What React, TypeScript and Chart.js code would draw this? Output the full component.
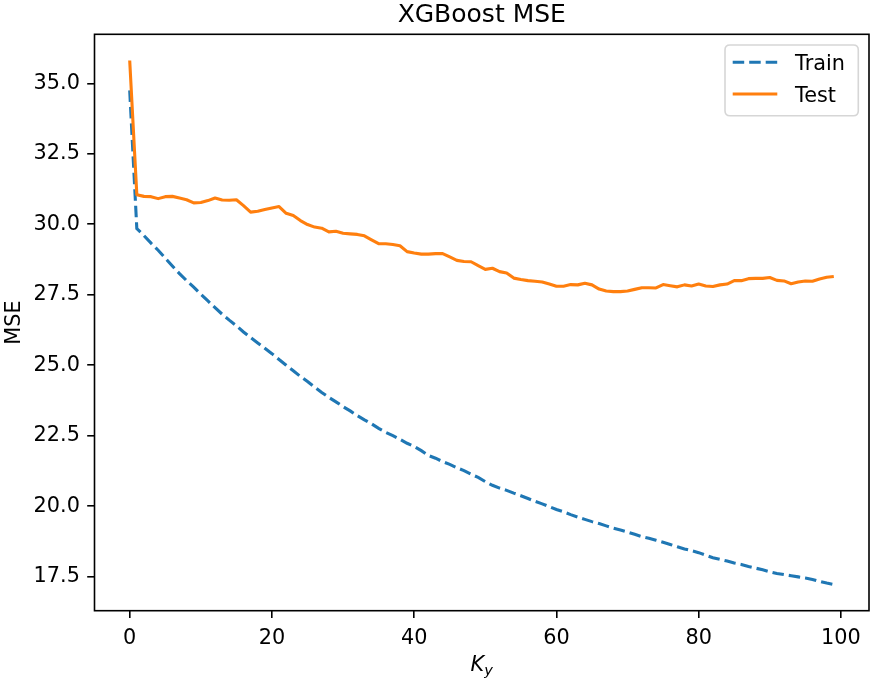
import React, { useEffect, useRef } from "react";
import { Chart, registerables } from "chart.js";

Chart.register(...registerables);

const chartTitle = "XGBoost MSE";
const yAxisLabel = "MSE";
const seriesNames = ["Train", "Test"];

const trainMSE = [
  34.75, 29.85, 29.6, 29.33, 29.08, 28.8, 28.52, 28.25, 28.0, 27.77,
  27.52, 27.28, 27.04, 26.81, 26.6, 26.4, 26.18, 25.98, 25.79, 25.6,
  25.41, 25.2, 25.0, 24.8, 24.6, 24.42, 24.22, 24.03, 23.86, 23.7,
  23.53, 23.38, 23.21, 23.06, 22.92, 22.76, 22.62, 22.5, 22.37, 22.23,
  22.12, 21.97, 21.8, 21.7, 21.58, 21.48, 21.36, 21.26, 21.13, 21.02,
  20.87, 20.74, 20.64, 20.56, 20.46, 20.37, 20.27, 20.17, 20.08, 19.98,
  19.88, 19.8, 19.7, 19.61, 19.53, 19.45, 19.38, 19.3, 19.22, 19.15,
  19.08, 19.0, 18.92, 18.86, 18.79, 18.72, 18.64, 18.56, 18.48, 18.42,
  18.35, 18.26, 18.17, 18.11, 18.05, 17.98, 17.93, 17.86, 17.8, 17.74,
  17.67, 17.61, 17.57, 17.53, 17.49, 17.45, 17.4, 17.33, 17.27, 17.22,
];

const testMSE = [
  35.81, 31.05, 30.99, 30.98, 30.91, 30.98, 30.99, 30.93, 30.87, 30.76,
  30.77, 30.84, 30.93, 30.86, 30.85, 30.87, 30.66, 30.43, 30.46, 30.52,
  30.58, 30.63, 30.39, 30.31, 30.13, 29.99, 29.9, 29.86, 29.73, 29.75,
  29.68, 29.66, 29.64, 29.59, 29.45, 29.31, 29.31, 29.28, 29.24, 29.03,
  28.98, 28.94, 28.94, 28.96, 28.96, 28.84, 28.72, 28.68, 28.67, 28.53,
  28.4, 28.44, 28.32, 28.27, 28.09, 28.04, 28.0, 27.98, 27.95, 27.88,
  27.8, 27.8, 27.86, 27.85, 27.91, 27.85, 27.7, 27.63, 27.61, 27.61,
  27.63, 27.69, 27.75, 27.75, 27.74, 27.86, 27.82, 27.78, 27.85, 27.81,
  27.88, 27.81, 27.79, 27.85, 27.88, 28.0, 28.0, 28.07, 28.08, 28.08,
  28.11, 28.01, 27.99, 27.89, 27.95, 27.99, 27.98, 28.06, 28.12, 28.15,
];

const xTickValues = [0, 20, 40, 60, 80, 100];
const yTickValues = [17.5, 20.0, 22.5, 25.0, 27.5, 30.0, 32.5, 35.0];

const BLUE = "#1f77b4";
const ORANGE = "#ff7f0e";
const FONT = "'DejaVu Sans', sans-serif";
const W = 872;
const H = 681;

const decorPlugin = {
  id: "decor",
  afterDatasetsDraw(chart: any) {
    const { ctx, chartArea } = chart;
    const { left, right, top, bottom } = chartArea;
    ctx.save();
    // frame (spines)
    ctx.strokeStyle = "#000";
    ctx.lineWidth = 1.6;
    ctx.setLineDash([]);
    ctx.strokeRect(left, top, right - left, bottom - top);

    // title
    ctx.fillStyle = "#000";
    ctx.font = `25px ${FONT}`;
    ctx.textAlign = "center";
    ctx.textBaseline = "alphabetic";
    ctx.fillText(chartTitle, (left + right) / 2, top - 12.5);

    // y label
    ctx.save();
    ctx.translate(20, (top + bottom) / 2);
    ctx.rotate(-Math.PI / 2);
    ctx.font = `20.8px ${FONT}`;
    ctx.textAlign = "center";
    ctx.textBaseline = "alphabetic";
    ctx.fillText(yAxisLabel, 0, 0);
    ctx.restore();

    // x label: K_y (mathtext style)
    const cx = (left + right) / 2;
    ctx.font = `italic 20.8px ${FONT}`;
    const kW = ctx.measureText("K").width;
    ctx.font = `italic 14.6px ${FONT}`;
    const yW = ctx.measureText("y").width;
    const total = kW + yW;
    const x0 = cx - total / 2;
    const base = 671;
    ctx.textAlign = "left";
    ctx.font = `italic 20.8px ${FONT}`;
    ctx.fillText("K", x0, base);
    ctx.font = `italic 14.6px ${FONT}`;
    ctx.fillText("y", x0 + kW, base + 3.5);

    // legend
    const lx = 725, ly = 45, lw = 133.3, lh = 70.7, r = 5;
    ctx.beginPath();
    ctx.moveTo(lx + r, ly);
    ctx.lineTo(lx + lw - r, ly);
    ctx.quadraticCurveTo(lx + lw, ly, lx + lw, ly + r);
    ctx.lineTo(lx + lw, ly + lh - r);
    ctx.quadraticCurveTo(lx + lw, ly + lh, lx + lw - r, ly + lh);
    ctx.lineTo(lx + r, ly + lh);
    ctx.quadraticCurveTo(lx, ly + lh, lx, ly + lh - r);
    ctx.lineTo(lx, ly + r);
    ctx.quadraticCurveTo(lx, ly, lx + r, ly);
    ctx.closePath();
    ctx.fillStyle = "rgba(255,255,255,0.8)";
    ctx.fill();
    ctx.strokeStyle = "#d6d6d6";
    ctx.lineWidth = 1.6;
    ctx.stroke();

    const rows = [
      { name: seriesNames[0], color: BLUE, dash: [11.5, 5], y: 62.3 },
      { name: seriesNames[1], color: ORANGE, dash: [], y: 94 },
    ];
    rows.forEach((row) => {
      ctx.beginPath();
      ctx.strokeStyle = row.color;
      ctx.lineWidth = 3.1;
      ctx.setLineDash(row.dash);
      ctx.moveTo(732.7, row.y);
      ctx.lineTo(777.3, row.y);
      ctx.stroke();
      ctx.setLineDash([]);
      ctx.fillStyle = "#000";
      ctx.font = `20.8px ${FONT}`;
      ctx.textAlign = "left";
      ctx.textBaseline = "alphabetic";
      ctx.fillText(row.name, 795, row.y + 8);
    });
    ctx.restore();
  },
};

export default function App() {
  const canvasRef = useRef<HTMLCanvasElement | null>(null);

  useEffect(() => {
    const canvas = canvasRef.current;
    if (!canvas) return;
    const train = trainMSE.map((v, i) => ({ x: i, y: v }));
    const test = testMSE.map((v, i) => ({ x: i, y: v }));
    const chart = new Chart(canvas, {
      type: "line",
      data: {
        datasets: [
          {
            label: seriesNames[1],
            data: test,
            borderColor: ORANGE,
            backgroundColor: ORANGE,
            borderWidth: 3.1,
            pointRadius: 0,
            tension: 0,
            fill: false,
            borderJoinStyle: "round",
            borderCapStyle: "butt",
          },
          {
            label: seriesNames[0],
            data: train,
            borderColor: BLUE,
            backgroundColor: BLUE,
            borderWidth: 3.1,
            borderDash: [11.5, 5],
            pointRadius: 0,
            tension: 0,
            fill: false,
            borderCapStyle: "butt",
          },
        ],
      },
      options: {
        animation: false,
        responsive: false,
        devicePixelRatio: 1,
        events: [],
        layout: { padding: { left: 0, top: 34.3, right: 3, bottom: 0 } },
        plugins: {
          legend: { display: false },
          title: { display: false },
          tooltip: { enabled: false },
        },
        scales: {
          x: {
            type: "linear",
            min: -4.95,
            max: 103.95,
            afterBuildTicks: (s: any) => {
              s.ticks = xTickValues.map((v) => ({ value: v }));
            },
            afterFit: (s: any) => {
              s.height = H - 610.7;
            },
            border: { display: false },
            grid: {
              drawOnChartArea: false,
              drawTicks: true,
              tickLength: 7.3,
              color: "#000",
              lineWidth: 1.6,
            },
            ticks: {
              color: "#000",
              font: { family: FONT, size: 20.8 },
              padding: 8,
              maxRotation: 0,
              autoSkip: false,
              callback: (v: any) => String(v),
            },
          },
          y: {
            type: "linear",
            min: 16.29,
            max: 36.74,
            afterBuildTicks: (s: any) => {
              s.ticks = yTickValues.map((v) => ({ value: v }));
            },
            afterFit: (s: any) => {
              s.width = 94.5;
            },
            border: { display: false },
            grid: {
              drawOnChartArea: false,
              drawTicks: true,
              tickLength: 7.3,
              color: "#000",
              lineWidth: 1.6,
            },
            ticks: {
              color: "#000",
              font: { family: FONT, size: 20.8 },
              padding: 7.3,
              autoSkip: false,
              callback: (v: any) => Number(v).toFixed(1),
            },
          },
        },
      },
      plugins: [decorPlugin],
    } as any);
    return () => chart.destroy();
  }, []);

  return (
    <div style={{ position: "fixed", left: 0, top: 0, width: W, height: H, background: "#fff" }}>
      <canvas ref={canvasRef} width={W} height={H} style={{ display: "block", width: W, height: H }} />
    </div>
  );
}
